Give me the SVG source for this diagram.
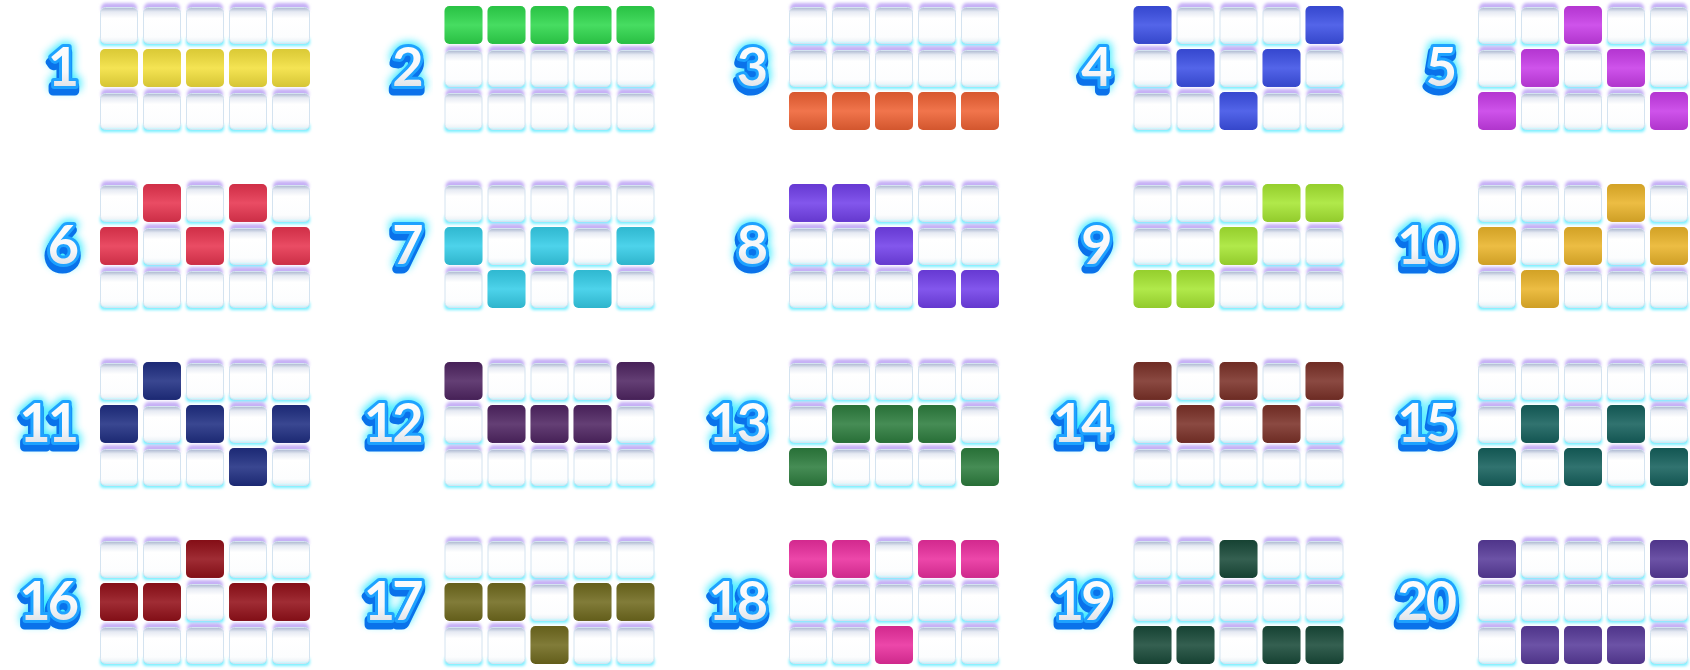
<svg xmlns="http://www.w3.org/2000/svg" width="1690" height="670" viewBox="0 0 1690 670">
<style>
.num{font-family:"Lato","Liberation Sans",sans-serif;font-weight:700;font-style:normal;font-size:54px;text-anchor:end;letter-spacing:-3px}
.glow{fill:#00e5ff;stroke:#00e5ff;stroke-width:10px;stroke-linejoin:round;opacity:.8}
.shd{fill:#0a72ea;stroke:#0a72ea;stroke-width:9px;stroke-linejoin:round}
.out{fill:url(#tg);stroke:#1ea2ff;stroke-width:6px;stroke-linejoin:round;paint-order:stroke}
</style>
<defs>
<filter id="bl" x="-30%" y="-60%" width="160%" height="220%"><feGaussianBlur stdDeviation="1.6"/></filter>
<filter id="gl" x="-40%" y="-40%" width="180%" height="180%"><feGaussianBlur stdDeviation="4"/></filter>
<linearGradient id="wg" x1="0" y1="0" x2="0" y2="1">
<stop offset="0" stop-color="#aab6cf"/><stop offset="0.12" stop-color="#e6eaf3"/><stop offset="0.3" stop-color="#ffffff"/><stop offset="0.82" stop-color="#fcfdfe"/><stop offset="0.93" stop-color="#eff4f8"/><stop offset="1" stop-color="#b9f6ff"/>
</linearGradient>
<linearGradient id="sh" x1="0" y1="0" x2="0" y2="1">
<stop offset="0" stop-color="#000" stop-opacity="0.1"/><stop offset="0.5" stop-color="#fff" stop-opacity="0.12"/><stop offset="1" stop-color="#000" stop-opacity="0.12"/>
</linearGradient>
<linearGradient id="tg" x1="0" y1="0" x2="0" y2="1">
<stop offset="0" stop-color="#ffffff"/><stop offset="0.6" stop-color="#f6f7f9"/><stop offset="1" stop-color="#cfd5dd"/>
</linearGradient>
<g id="e">
<rect x="1" y="-3" width="36" height="10" rx="5" fill="#c6b0f6" filter="url(#bl)"/>
<rect x="0" y="31" width="38" height="9" rx="4" fill="#74eeff" filter="url(#bl)"/>
<rect x="0.5" y="1.5" width="37" height="36" rx="5" fill="url(#wg)" stroke="#d4e3f0" stroke-width="1"/>
</g>
<g id="f">
<rect width="38" height="38" rx="5"/>
<rect width="38" height="38" rx="5" fill="url(#sh)"/>
</g>
<text id="t1" class="num" x="-24" y="80">1</text>
<text id="t2" class="num" x="-24" y="80">2</text>
<text id="t3" class="num" x="-24" y="80">3</text>
<text id="t4" class="num" x="-24" y="80">4</text>
<text id="t5" class="num" x="-24" y="80">5</text>
<text id="t6" class="num" x="-24" y="80">6</text>
<text id="t7" class="num" x="-24" y="80">7</text>
<text id="t8" class="num" x="-24" y="80">8</text>
<text id="t9" class="num" x="-24" y="80">9</text>
<text id="t10" class="num" x="-24" y="80">10</text>
<text id="t11" class="num" x="-24" y="80">11</text>
<text id="t12" class="num" x="-24" y="80">12</text>
<text id="t13" class="num" x="-24" y="80">13</text>
<text id="t14" class="num" x="-24" y="80">14</text>
<text id="t15" class="num" x="-24" y="80">15</text>
<text id="t16" class="num" x="-24" y="80">16</text>
<text id="t17" class="num" x="-24" y="80">17</text>
<text id="t18" class="num" x="-24" y="80">18</text>
<text id="t19" class="num" x="-24" y="80">19</text>
<text id="t20" class="num" x="-24" y="80">20</text>
</defs>

<g id="p1" transform="translate(100,6)" fill="#f3e03c">
<use href="#t1" class="glow" filter="url(#gl)"/><use href="#t1" class="shd" transform="translate(-1,5)"/><use href="#t1" class="out"/>
<use href="#e" x="0" y="0"/><use href="#e" x="43" y="0"/><use href="#e" x="86" y="0"/><use href="#e" x="129" y="0"/><use href="#e" x="172" y="0"/>
<use href="#f" x="0" y="43"/><use href="#f" x="43" y="43"/><use href="#f" x="86" y="43"/><use href="#f" x="129" y="43"/><use href="#f" x="172" y="43"/>
<use href="#e" x="0" y="86"/><use href="#e" x="43" y="86"/><use href="#e" x="86" y="86"/><use href="#e" x="129" y="86"/><use href="#e" x="172" y="86"/>
</g>

<g id="p2" transform="translate(444.5,6)" fill="#2ed84c">
<use href="#t2" class="glow" filter="url(#gl)"/><use href="#t2" class="shd" transform="translate(-1,5)"/><use href="#t2" class="out"/>
<use href="#f" x="0" y="0"/><use href="#f" x="43" y="0"/><use href="#f" x="86" y="0"/><use href="#f" x="129" y="0"/><use href="#f" x="172" y="0"/>
<use href="#e" x="0" y="43"/><use href="#e" x="43" y="43"/><use href="#e" x="86" y="43"/><use href="#e" x="129" y="43"/><use href="#e" x="172" y="43"/>
<use href="#e" x="0" y="86"/><use href="#e" x="43" y="86"/><use href="#e" x="86" y="86"/><use href="#e" x="129" y="86"/><use href="#e" x="172" y="86"/>
</g>

<g id="p3" transform="translate(789,6)" fill="#ef6234">
<use href="#t3" class="glow" filter="url(#gl)"/><use href="#t3" class="shd" transform="translate(-1,5)"/><use href="#t3" class="out"/>
<use href="#e" x="0" y="0"/><use href="#e" x="43" y="0"/><use href="#e" x="86" y="0"/><use href="#e" x="129" y="0"/><use href="#e" x="172" y="0"/>
<use href="#e" x="0" y="43"/><use href="#e" x="43" y="43"/><use href="#e" x="86" y="43"/><use href="#e" x="129" y="43"/><use href="#e" x="172" y="43"/>
<use href="#f" x="0" y="86"/><use href="#f" x="43" y="86"/><use href="#f" x="86" y="86"/><use href="#f" x="129" y="86"/><use href="#f" x="172" y="86"/>
</g>

<g id="p4" transform="translate(1133.5,6)" fill="#3c50e6">
<use href="#t4" class="glow" filter="url(#gl)"/><use href="#t4" class="shd" transform="translate(-1,5)"/><use href="#t4" class="out"/>
<use href="#f" x="0" y="0"/><use href="#e" x="43" y="0"/><use href="#e" x="86" y="0"/><use href="#e" x="129" y="0"/><use href="#f" x="172" y="0"/>
<use href="#e" x="0" y="43"/><use href="#f" x="43" y="43"/><use href="#e" x="86" y="43"/><use href="#f" x="129" y="43"/><use href="#e" x="172" y="43"/>
<use href="#e" x="0" y="86"/><use href="#e" x="43" y="86"/><use href="#f" x="86" y="86"/><use href="#e" x="129" y="86"/><use href="#e" x="172" y="86"/>
</g>

<g id="p5" transform="translate(1478,6)" fill="#c83ce8">
<use href="#t5" class="glow" filter="url(#gl)"/><use href="#t5" class="shd" transform="translate(-1,5)"/><use href="#t5" class="out"/>
<use href="#e" x="0" y="0"/><use href="#e" x="43" y="0"/><use href="#f" x="86" y="0"/><use href="#e" x="129" y="0"/><use href="#e" x="172" y="0"/>
<use href="#e" x="0" y="43"/><use href="#f" x="43" y="43"/><use href="#e" x="86" y="43"/><use href="#f" x="129" y="43"/><use href="#e" x="172" y="43"/>
<use href="#f" x="0" y="86"/><use href="#e" x="43" y="86"/><use href="#e" x="86" y="86"/><use href="#e" x="129" y="86"/><use href="#f" x="172" y="86"/>
</g>

<g id="p6" transform="translate(100,184)" fill="#e7344f">
<use href="#t6" class="glow" filter="url(#gl)"/><use href="#t6" class="shd" transform="translate(-1,5)"/><use href="#t6" class="out"/>
<use href="#e" x="0" y="0"/><use href="#f" x="43" y="0"/><use href="#e" x="86" y="0"/><use href="#f" x="129" y="0"/><use href="#e" x="172" y="0"/>
<use href="#f" x="0" y="43"/><use href="#e" x="43" y="43"/><use href="#f" x="86" y="43"/><use href="#e" x="129" y="43"/><use href="#f" x="172" y="43"/>
<use href="#e" x="0" y="86"/><use href="#e" x="43" y="86"/><use href="#e" x="86" y="86"/><use href="#e" x="129" y="86"/><use href="#e" x="172" y="86"/>
</g>

<g id="p7" transform="translate(444.5,184)" fill="#35cde8">
<use href="#t7" class="glow" filter="url(#gl)"/><use href="#t7" class="shd" transform="translate(-1,5)"/><use href="#t7" class="out"/>
<use href="#e" x="0" y="0"/><use href="#e" x="43" y="0"/><use href="#e" x="86" y="0"/><use href="#e" x="129" y="0"/><use href="#e" x="172" y="0"/>
<use href="#f" x="0" y="43"/><use href="#e" x="43" y="43"/><use href="#f" x="86" y="43"/><use href="#e" x="129" y="43"/><use href="#f" x="172" y="43"/>
<use href="#e" x="0" y="86"/><use href="#f" x="43" y="86"/><use href="#e" x="86" y="86"/><use href="#f" x="129" y="86"/><use href="#e" x="172" y="86"/>
</g>

<g id="p8" transform="translate(789,184)" fill="#7240ea">
<use href="#t8" class="glow" filter="url(#gl)"/><use href="#t8" class="shd" transform="translate(-1,5)"/><use href="#t8" class="out"/>
<use href="#f" x="0" y="0"/><use href="#f" x="43" y="0"/><use href="#e" x="86" y="0"/><use href="#e" x="129" y="0"/><use href="#e" x="172" y="0"/>
<use href="#e" x="0" y="43"/><use href="#e" x="43" y="43"/><use href="#f" x="86" y="43"/><use href="#e" x="129" y="43"/><use href="#e" x="172" y="43"/>
<use href="#e" x="0" y="86"/><use href="#e" x="43" y="86"/><use href="#e" x="86" y="86"/><use href="#f" x="129" y="86"/><use href="#f" x="172" y="86"/>
</g>

<g id="p9" transform="translate(1133.5,184)" fill="#a6e632">
<use href="#t9" class="glow" filter="url(#gl)"/><use href="#t9" class="shd" transform="translate(-1,5)"/><use href="#t9" class="out"/>
<use href="#e" x="0" y="0"/><use href="#e" x="43" y="0"/><use href="#e" x="86" y="0"/><use href="#f" x="129" y="0"/><use href="#f" x="172" y="0"/>
<use href="#e" x="0" y="43"/><use href="#e" x="43" y="43"/><use href="#f" x="86" y="43"/><use href="#e" x="129" y="43"/><use href="#e" x="172" y="43"/>
<use href="#f" x="0" y="86"/><use href="#f" x="43" y="86"/><use href="#e" x="86" y="86"/><use href="#e" x="129" y="86"/><use href="#e" x="172" y="86"/>
</g>

<g id="p10" transform="translate(1478,184)" fill="#eab42a">
<use href="#t10" class="glow" filter="url(#gl)"/><use href="#t10" class="shd" transform="translate(-1,5)"/><use href="#t10" class="out"/>
<use href="#e" x="0" y="0"/><use href="#e" x="43" y="0"/><use href="#e" x="86" y="0"/><use href="#f" x="129" y="0"/><use href="#e" x="172" y="0"/>
<use href="#f" x="0" y="43"/><use href="#e" x="43" y="43"/><use href="#f" x="86" y="43"/><use href="#e" x="129" y="43"/><use href="#f" x="172" y="43"/>
<use href="#e" x="0" y="86"/><use href="#f" x="43" y="86"/><use href="#e" x="86" y="86"/><use href="#e" x="129" y="86"/><use href="#e" x="172" y="86"/>
</g>

<g id="p11" transform="translate(100,362)" fill="#1f2e82">
<use href="#t11" class="glow" filter="url(#gl)"/><use href="#t11" class="shd" transform="translate(-1,5)"/><use href="#t11" class="out"/>
<use href="#e" x="0" y="0"/><use href="#f" x="43" y="0"/><use href="#e" x="86" y="0"/><use href="#e" x="129" y="0"/><use href="#e" x="172" y="0"/>
<use href="#f" x="0" y="43"/><use href="#e" x="43" y="43"/><use href="#f" x="86" y="43"/><use href="#e" x="129" y="43"/><use href="#f" x="172" y="43"/>
<use href="#e" x="0" y="86"/><use href="#e" x="43" y="86"/><use href="#e" x="86" y="86"/><use href="#f" x="129" y="86"/><use href="#e" x="172" y="86"/>
</g>

<g id="p12" transform="translate(444.5,362)" fill="#4f2562">
<use href="#t12" class="glow" filter="url(#gl)"/><use href="#t12" class="shd" transform="translate(-1,5)"/><use href="#t12" class="out"/>
<use href="#f" x="0" y="0"/><use href="#e" x="43" y="0"/><use href="#e" x="86" y="0"/><use href="#e" x="129" y="0"/><use href="#f" x="172" y="0"/>
<use href="#e" x="0" y="43"/><use href="#f" x="43" y="43"/><use href="#f" x="86" y="43"/><use href="#f" x="129" y="43"/><use href="#e" x="172" y="43"/>
<use href="#e" x="0" y="86"/><use href="#e" x="43" y="86"/><use href="#e" x="86" y="86"/><use href="#e" x="129" y="86"/><use href="#e" x="172" y="86"/>
</g>

<g id="p13" transform="translate(789,362)" fill="#2d7d3e">
<use href="#t13" class="glow" filter="url(#gl)"/><use href="#t13" class="shd" transform="translate(-1,5)"/><use href="#t13" class="out"/>
<use href="#e" x="0" y="0"/><use href="#e" x="43" y="0"/><use href="#e" x="86" y="0"/><use href="#e" x="129" y="0"/><use href="#e" x="172" y="0"/>
<use href="#e" x="0" y="43"/><use href="#f" x="43" y="43"/><use href="#f" x="86" y="43"/><use href="#f" x="129" y="43"/><use href="#e" x="172" y="43"/>
<use href="#f" x="0" y="86"/><use href="#e" x="43" y="86"/><use href="#e" x="86" y="86"/><use href="#e" x="129" y="86"/><use href="#f" x="172" y="86"/>
</g>

<g id="p14" transform="translate(1133.5,362)" fill="#7b3128">
<use href="#t14" class="glow" filter="url(#gl)"/><use href="#t14" class="shd" transform="translate(-1,5)"/><use href="#t14" class="out"/>
<use href="#f" x="0" y="0"/><use href="#e" x="43" y="0"/><use href="#f" x="86" y="0"/><use href="#e" x="129" y="0"/><use href="#f" x="172" y="0"/>
<use href="#e" x="0" y="43"/><use href="#f" x="43" y="43"/><use href="#e" x="86" y="43"/><use href="#f" x="129" y="43"/><use href="#e" x="172" y="43"/>
<use href="#e" x="0" y="86"/><use href="#e" x="43" y="86"/><use href="#e" x="86" y="86"/><use href="#e" x="129" y="86"/><use href="#e" x="172" y="86"/>
</g>

<g id="p15" transform="translate(1478,362)" fill="#15605c">
<use href="#t15" class="glow" filter="url(#gl)"/><use href="#t15" class="shd" transform="translate(-1,5)"/><use href="#t15" class="out"/>
<use href="#e" x="0" y="0"/><use href="#e" x="43" y="0"/><use href="#e" x="86" y="0"/><use href="#e" x="129" y="0"/><use href="#e" x="172" y="0"/>
<use href="#e" x="0" y="43"/><use href="#f" x="43" y="43"/><use href="#e" x="86" y="43"/><use href="#f" x="129" y="43"/><use href="#e" x="172" y="43"/>
<use href="#f" x="0" y="86"/><use href="#e" x="43" y="86"/><use href="#f" x="86" y="86"/><use href="#e" x="129" y="86"/><use href="#f" x="172" y="86"/>
</g>

<g id="p16" transform="translate(100,540)" fill="#931019">
<use href="#t16" class="glow" filter="url(#gl)"/><use href="#t16" class="shd" transform="translate(-1,5)"/><use href="#t16" class="out"/>
<use href="#e" x="0" y="0"/><use href="#e" x="43" y="0"/><use href="#f" x="86" y="0"/><use href="#e" x="129" y="0"/><use href="#e" x="172" y="0"/>
<use href="#f" x="0" y="43"/><use href="#f" x="43" y="43"/><use href="#e" x="86" y="43"/><use href="#f" x="129" y="43"/><use href="#f" x="172" y="43"/>
<use href="#e" x="0" y="86"/><use href="#e" x="43" y="86"/><use href="#e" x="86" y="86"/><use href="#e" x="129" y="86"/><use href="#e" x="172" y="86"/>
</g>

<g id="p17" transform="translate(444.5,540)" fill="#706a1e">
<use href="#t17" class="glow" filter="url(#gl)"/><use href="#t17" class="shd" transform="translate(-1,5)"/><use href="#t17" class="out"/>
<use href="#e" x="0" y="0"/><use href="#e" x="43" y="0"/><use href="#e" x="86" y="0"/><use href="#e" x="129" y="0"/><use href="#e" x="172" y="0"/>
<use href="#f" x="0" y="43"/><use href="#f" x="43" y="43"/><use href="#e" x="86" y="43"/><use href="#f" x="129" y="43"/><use href="#f" x="172" y="43"/>
<use href="#e" x="0" y="86"/><use href="#e" x="43" y="86"/><use href="#f" x="86" y="86"/><use href="#e" x="129" y="86"/><use href="#e" x="172" y="86"/>
</g>

<g id="p18" transform="translate(789,540)" fill="#ea2e9e">
<use href="#t18" class="glow" filter="url(#gl)"/><use href="#t18" class="shd" transform="translate(-1,5)"/><use href="#t18" class="out"/>
<use href="#f" x="0" y="0"/><use href="#f" x="43" y="0"/><use href="#e" x="86" y="0"/><use href="#f" x="129" y="0"/><use href="#f" x="172" y="0"/>
<use href="#e" x="0" y="43"/><use href="#e" x="43" y="43"/><use href="#e" x="86" y="43"/><use href="#e" x="129" y="43"/><use href="#e" x="172" y="43"/>
<use href="#e" x="0" y="86"/><use href="#e" x="43" y="86"/><use href="#f" x="86" y="86"/><use href="#e" x="129" y="86"/><use href="#e" x="172" y="86"/>
</g>

<g id="p19" transform="translate(1133.5,540)" fill="#194a39">
<use href="#t19" class="glow" filter="url(#gl)"/><use href="#t19" class="shd" transform="translate(-1,5)"/><use href="#t19" class="out"/>
<use href="#e" x="0" y="0"/><use href="#e" x="43" y="0"/><use href="#f" x="86" y="0"/><use href="#e" x="129" y="0"/><use href="#e" x="172" y="0"/>
<use href="#e" x="0" y="43"/><use href="#e" x="43" y="43"/><use href="#e" x="86" y="43"/><use href="#e" x="129" y="43"/><use href="#e" x="172" y="43"/>
<use href="#f" x="0" y="86"/><use href="#f" x="43" y="86"/><use href="#e" x="86" y="86"/><use href="#f" x="129" y="86"/><use href="#f" x="172" y="86"/>
</g>

<g id="p20" transform="translate(1478,540)" fill="#583b9a">
<use href="#t20" class="glow" filter="url(#gl)"/><use href="#t20" class="shd" transform="translate(-1,5)"/><use href="#t20" class="out"/>
<use href="#f" x="0" y="0"/><use href="#e" x="43" y="0"/><use href="#e" x="86" y="0"/><use href="#e" x="129" y="0"/><use href="#f" x="172" y="0"/>
<use href="#e" x="0" y="43"/><use href="#e" x="43" y="43"/><use href="#e" x="86" y="43"/><use href="#e" x="129" y="43"/><use href="#e" x="172" y="43"/>
<use href="#e" x="0" y="86"/><use href="#f" x="43" y="86"/><use href="#f" x="86" y="86"/><use href="#f" x="129" y="86"/><use href="#e" x="172" y="86"/>
</g>

<g id="connectors"/>
</svg>
